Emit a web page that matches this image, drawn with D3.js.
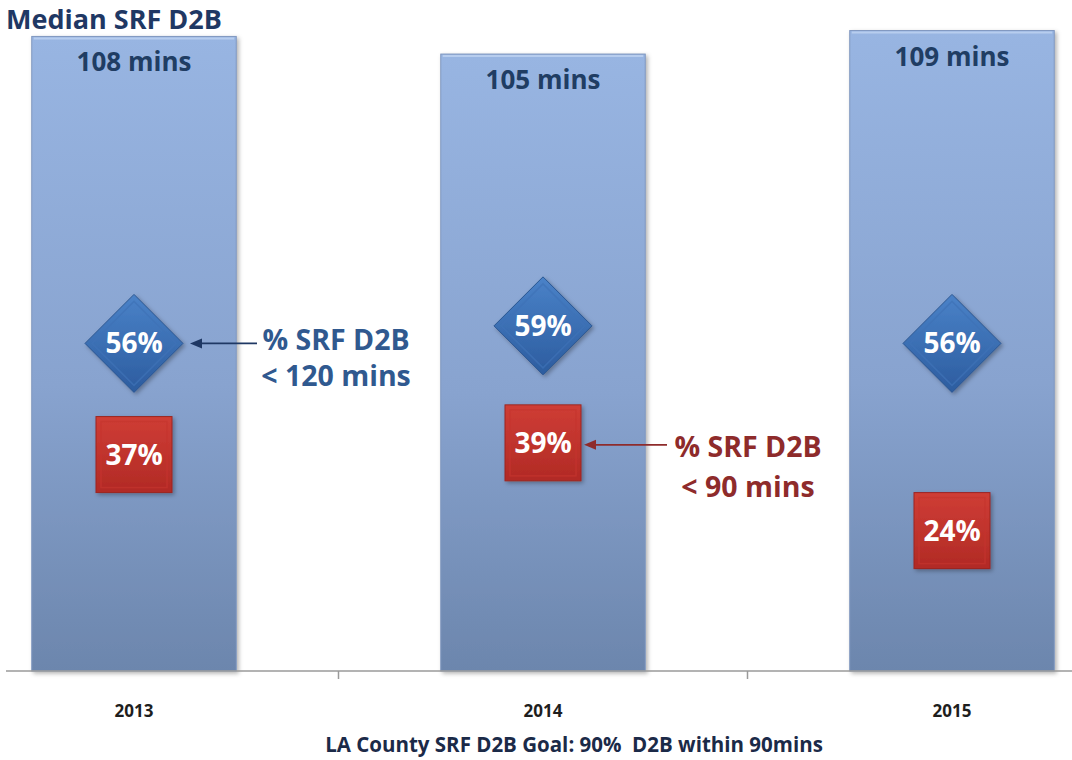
<!DOCTYPE html>
<html>
<head>
<meta charset="utf-8">
<script src="https://cdn.jsdelivr.net/npm/d3@7"></script>
<style>
  html, body { margin: 0; padding: 0; background: #ffffff; }
  svg { display: block; font-family: "Open Sans", Lato, sans-serif; }
  text { white-space: pre; }
</style>
</head>
<body>
<svg id="chart" width="1072" height="760"></svg>
<script>
// Door-to-balloon (D2B) figures for the STEMI receiving facilities
const years = ["2013", "2014", "2015"];
const medianMins = [108, 105, 109];       // median SRF D2B, minutes (bar height)
const pctUnder120 = [56, 59, 56];         // % SRF D2B < 120 mins (diamond)
const pctUnder90 = [37, 39, 24];          // % SRF D2B < 90 mins (square)
const titleText = "Median SRF D2B";
const captionText = "LA County SRF D2B Goal: 90%  D2B within 90mins";
const note120 = ["% SRF D2B", "< 120 mins"];
const note90 = ["% SRF D2B", "< 90 mins"];

const svg = d3.select("#chart");
const W = 1072, H = 760;
const baseY = 671;

const x = d3.scaleBand().domain(years).range([-70.5, 1156.5])
  .paddingInner(0.5).paddingOuter(0.25);
const y = d3.scaleLinear().domain([0, 114.2]).range([baseY, 0]);
const yPct = d3.scaleLinear().domain([0, 100]).range([baseY, 86]);
const cx = d => x(d) + x.bandwidth() / 2;

const defs = svg.append("defs");

const barGrad = defs.append("linearGradient").attr("id", "barGrad")
  .attr("x1", 0).attr("y1", 0).attr("x2", 0).attr("y2", 1);
barGrad.append("stop").attr("offset", "0%").attr("stop-color", "#98b5e2");
barGrad.append("stop").attr("offset", "55%").attr("stop-color", "#88a3cf");
barGrad.append("stop").attr("offset", "100%").attr("stop-color", "#6c86ad");

const diaGrad = defs.append("linearGradient").attr("id", "diaGrad")
  .attr("x1", 0).attr("y1", 0).attr("x2", 0).attr("y2", 1);
diaGrad.append("stop").attr("offset", "0%").attr("stop-color", "#4a82c8");
diaGrad.append("stop").attr("offset", "100%").attr("stop-color", "#2c5c9f");

const sqGrad = defs.append("linearGradient").attr("id", "sqGrad")
  .attr("x1", 0).attr("y1", 0).attr("x2", 0).attr("y2", 1);
sqGrad.append("stop").attr("offset", "0%").attr("stop-color", "#cf3d35");
sqGrad.append("stop").attr("offset", "100%").attr("stop-color", "#b12a25");

const shadow = defs.append("filter").attr("id", "shadow")
  .attr("x", "-20%").attr("y", "-20%").attr("width", "140%").attr("height", "140%");
shadow.append("feDropShadow").attr("dx", 2).attr("dy", 2)
  .attr("stdDeviation", 2).attr("flood-color", "#000").attr("flood-opacity", 0.3);

// Bars: median minutes
const bars = svg.append("g");
bars.selectAll("rect").data(years).join("rect")
  .attr("x", d => x(d))
  .attr("y", (d, i) => y(medianMins[i]))
  .attr("width", x.bandwidth())
  .attr("height", (d, i) => baseY - y(medianMins[i]))
  .attr("fill", "url(#barGrad)")
  .attr("stroke", "#7f97bf").attr("stroke-width", 1)
  .attr("filter", "url(#shadow)");
bars.selectAll("line.hl").data(years).join("line").attr("class", "hl")
  .attr("x1", d => x(d) + 2).attr("x2", d => x(d) + x.bandwidth() - 2)
  .attr("y1", (d, i) => y(medianMins[i]) + 2).attr("y2", (d, i) => y(medianMins[i]) + 2)
  .attr("stroke", "#b7cdee").attr("stroke-width", 2);

svg.append("g").selectAll("text").data(years).join("text")
  .attr("x", d => cx(d))
  .attr("y", (d, i) => y(medianMins[i]) + 35)
  .attr("text-anchor", "middle")
  .attr("font-size", 26).attr("font-weight", 700).attr("fill", "#203d63")
  .text((d, i) => medianMins[i] + " mins");

// Axis
const axisG = svg.append("g");
axisG.append("line").attr("x1", 6).attr("x2", W).attr("y1", baseY).attr("y2", baseY)
  .attr("stroke", "#9a9a9a").attr("stroke-width", 1.5);
axisG.selectAll("line.tick").data(years.slice(0, -1)).join("line").attr("class", "tick")
  .attr("x1", d => x(d) + x.bandwidth() / 2 + x.step() / 2)
  .attr("x2", d => x(d) + x.bandwidth() / 2 + x.step() / 2)
  .attr("y1", baseY).attr("y2", baseY + 8)
  .attr("stroke", "#9a9a9a").attr("stroke-width", 1.5);
const xAxis = svg.append("g").attr("transform", `translate(0,${baseY})`)
  .call(d3.axisBottom(x).tickSize(0).tickPadding(34));
xAxis.select(".domain").remove();
xAxis.selectAll("text").attr("font-family", "'Open Sans', sans-serif")
  .attr("font-size", 17).attr("font-weight", 700).attr("fill", "#1e1e1e");

// Diamonds: % < 120 mins
const dHalf = 49;
const dia = svg.append("g").selectAll("g").data(years).join("g")
  .attr("transform", (d, i) => `translate(${cx(d)},${yPct(pctUnder120[i])})`);
dia.append("path")
  .attr("d", `M0,${-dHalf} L${dHalf},0 L0,${dHalf} L${-dHalf},0 Z`)
  .attr("fill", "url(#diaGrad)").attr("stroke", "#2a5590").attr("stroke-width", 1)
  .attr("filter", "url(#shadow)");
dia.append("path")
  .attr("d", `M0,${-dHalf + 7} L${dHalf - 7},0 L0,${dHalf - 7} L${-dHalf + 7},0 Z`)
  .attr("fill", "none").attr("stroke", "#3e72b6").attr("stroke-width", 1.5).attr("opacity", 0.7);
dia.append("text").attr("text-anchor", "middle").attr("dy", "0.36em")
  .attr("font-size", 28).attr("font-weight", 700).attr("fill", "#ffffff")
  .text((d, i) => pctUnder120[i] + "%");

// Squares: % < 90 mins
const sHalf = 38;
const sq = svg.append("g").selectAll("g").data(years).join("g")
  .attr("transform", (d, i) => `translate(${cx(d)},${yPct(pctUnder90[i])})`);
sq.append("rect").attr("x", -sHalf).attr("y", -sHalf)
  .attr("width", sHalf * 2).attr("height", sHalf * 2)
  .attr("fill", "url(#sqGrad)").attr("stroke", "#9c2520").attr("stroke-width", 1)
  .attr("filter", "url(#shadow)");
sq.append("rect").attr("x", -sHalf + 5).attr("y", -sHalf + 5)
  .attr("width", sHalf * 2 - 10).attr("height", sHalf * 2 - 10)
  .attr("fill", "none").attr("stroke", "#c5342e").attr("stroke-width", 1.5).attr("opacity", 0.7);
sq.append("text").attr("text-anchor", "middle").attr("dy", "0.36em")
  .attr("font-size", 28).attr("font-weight", 700).attr("fill", "#ffffff")
  .text((d, i) => pctUnder90[i] + "%");

// Arrow helper: horizontal line with a filled head at its left end
function leftArrow(x1, x2, yy, color) {
  const g = svg.append("g");
  g.append("line").attr("x1", x1).attr("x2", x2 + 10).attr("y1", yy).attr("y2", yy)
    .attr("stroke", color).attr("stroke-width", 1.6);
  g.append("path").attr("d", `M${x2},${yy} L${x2 + 12},${yy - 5} L${x2 + 12},${yy + 5} Z`)
    .attr("fill", color);
}

// Two-line centred note
function note(lines, xx, yy, gap, color) {
  svg.append("g").selectAll("text").data(lines).join("text")
    .attr("x", xx).attr("y", (d, i) => yy + i * gap)
    .attr("text-anchor", "middle")
    .attr("font-size", 28.5).attr("font-weight", 700).attr("fill", color)
    .text(d => d);
}

// Annotation: % < 120 mins, pointing at the 2013 diamond
const a1x = cx(years[0]), a1y = yPct(pctUnder120[0]);
leftArrow(a1x + 123, a1x + 56, a1y, "#1f3864");
note(note120, a1x + 202, a1y + 7, 36, "#30598f");

// Annotation: % < 90 mins, pointing at the 2014 square
const a2x = cx(years[1]), a2y = yPct(pctUnder90[1]);
leftArrow(a2x + 124, a2x + 41, a2y + 2, "#8e2b2b");
note(note90, a2x + 205, a2y + 14, 40, "#8e2b2b");

// Title and caption
svg.append("text").attr("x", 6).attr("y", 29)
  .attr("font-size", 27).attr("font-weight", 700).attr("fill", "#1f3864")
  .text(titleText);
svg.append("text").attr("x", 574).attr("y", 752).attr("text-anchor", "middle")
  .attr("font-size", 20.5).attr("font-weight", 700).attr("fill", "#1b2a48")
  .text(captionText);
</script>
</body>
</html>
